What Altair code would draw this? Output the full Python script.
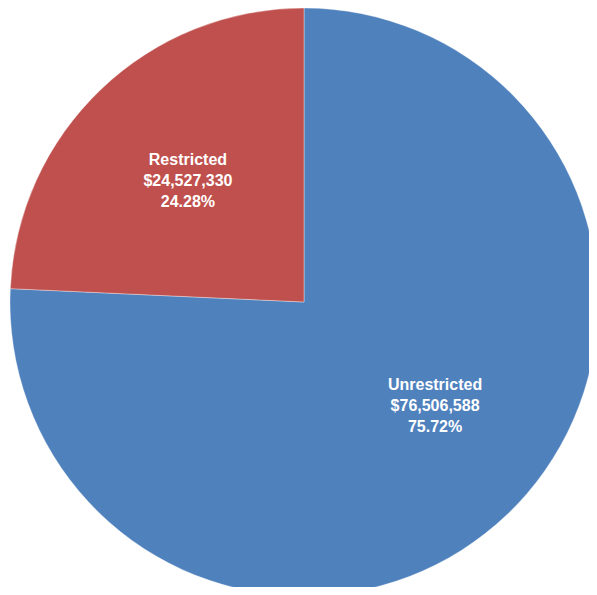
import altair as alt
import pandas as pd

categories = ["Unrestricted", "Restricted"]
values = [76506588, 24527330]
colors = ["#4F81BD", "#C0504D"]

total = sum(values)
labels = [
    f"{c}\n${v:,.0f}\n{v / total * 100:.2f}%" for c, v in zip(categories, values)
]
df = pd.DataFrame({
    "category": categories,
    "value": values,
    "label": labels,
    "order": list(range(len(categories))),
})

base = alt.Chart(df).encode(
    theta=alt.Theta("value:Q", stack=True),
    order=alt.Order("order:Q"),
    x=alt.value(296),
    y=alt.value(294),
)

pie = base.mark_arc(
    radius=294, stroke="#ffffff", strokeWidth=0.8, strokeOpacity=0.45
).encode(
    color=alt.Color("category:N", scale=alt.Scale(domain=categories, range=colors), legend=None)
)

def text_layer(cat, dx, dy):
    return base.transform_calculate(
        txt=f"datum.category == '{cat}' ? datum.label : ''"
    ).mark_text(
        radius=168, dx=dx, dy=dy, color="white", font="Liberation Sans",
        fontWeight="bold", fontSize=16, lineBreak="\n", lineHeight=21,
        align="center", baseline="middle",
    ).encode(text="txt:N")

chart = alt.layer(
    pie,
    text_layer("Restricted", 0, -21),
    text_layer("Unrestricted", 15, -38),
).properties(
    width=581, height=579, padding=0, autosize=alt.AutoSizeParams(type="none")
).configure_view(stroke=None)

chart.save("out.html", embed_options={"renderer": "svg", "actions": False})
